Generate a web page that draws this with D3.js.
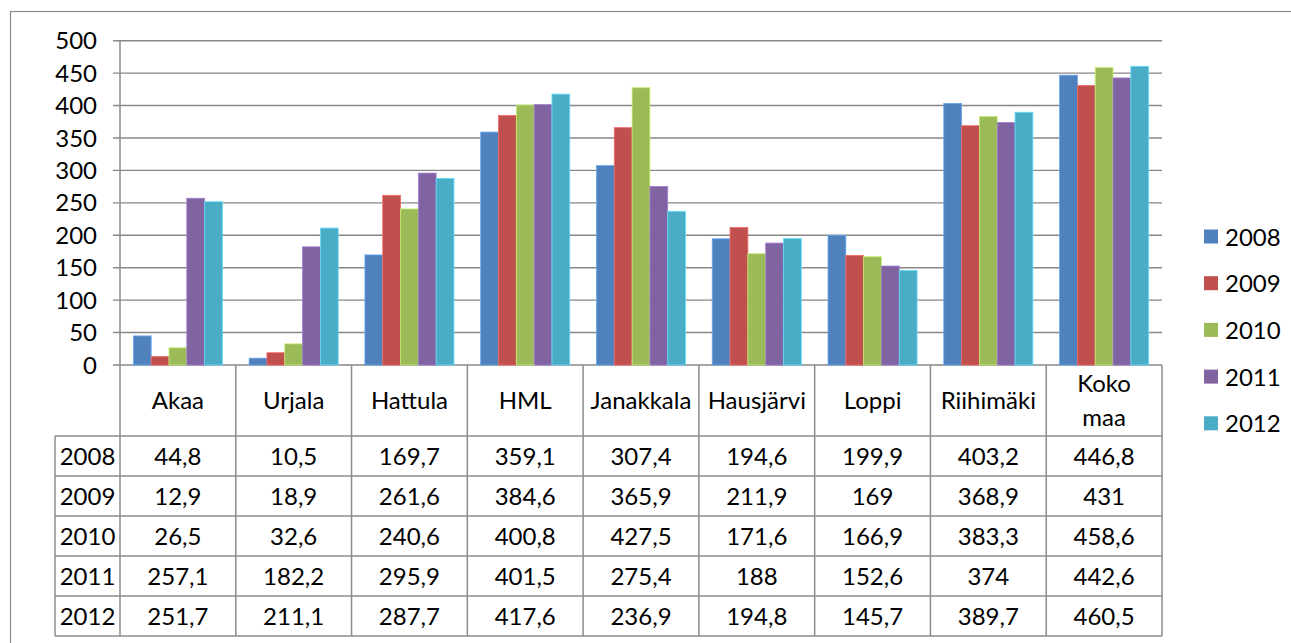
<!DOCTYPE html>
<html>
<head>
    <meta charset="utf-8">
    <style>
        body { margin: 0; background: #fff; }
        text { font-family: Lato, "Open Sans", sans-serif; font-size: 24px; fill: #000; }
        .grid line { stroke: #878787; stroke-width: 1.4; }
        .tbl line { stroke: #8c8c8c; stroke-width: 1.5; }
    </style>
    <script src="https://d3js.org/d3.v7.min.js"></script>
</head>
<body>
    <svg width="1291" height="643"></svg>
    <script>

        // chart data
        var categories = ["Akaa", "Urjala", "Hattula", "HML", "Janakkala", "Hausjärvi", "Loppi", "Riihimäki", "Koko maa"];
        var years = ["2008", "2009", "2010", "2011", "2012"];
        var v2008 = [44.8, 10.5, 169.7, 359.1, 307.4, 194.6, 199.9, 403.2, 446.8];
        var v2009 = [12.9, 18.9, 261.6, 384.6, 365.9, 211.9, 169, 368.9, 431];
        var v2010 = [26.5, 32.6, 240.6, 400.8, 427.5, 171.6, 166.9, 383.3, 458.6];
        var v2011 = [257.1, 182.2, 295.9, 401.5, 275.4, 188, 152.6, 374, 442.6];
        var v2012 = [251.7, 211.1, 287.7, 417.6, 236.9, 194.8, 145.7, 389.7, 460.5];
        var yTicks = [0, 50, 100, 150, 200, 250, 300, 350, 400, 450, 500];

        var series = [v2008, v2009, v2010, v2011, v2012];
        var colors = ["#4F81BD", "#C0504D", "#9BBB59", "#8064A2", "#4BACC6"];

        var svg = d3.select("svg");

        // outer chart border (cut off at right/bottom like the source)
        svg.append("rect")
           .attr("x", 10.5).attr("y", 11.5)
           .attr("width", 1300).attr("height", 700)
           .attr("fill", "none")
           .attr("stroke", "#8a8a8a")
           .attr("stroke-width", 1.2);

        var plotL = 120, plotR = 1162, plotT = 40.7, plotB = 365;

        var x = d3.scaleBand().domain(categories).range([plotL, plotR]);
        var y = d3.scaleLinear().domain([0, 500]).range([plotB, plotT]);
        // gap width 150% like Excel
        var bw = x.bandwidth() / (years.length + 1.5);
        var xs = d3.scaleBand().domain(years)
                   .range([x.bandwidth() / 2 - bw * 2.5, x.bandwidth() / 2 + bw * 2.5]);

        // gridlines + tick marks
        var grid = svg.append("g").attr("class", "grid");
        grid.selectAll("line")
            .data(yTicks)
            .enter().append("line")
            .attr("x1", plotL - 7).attr("x2", plotR)
            .attr("y1", function(d) { return y(d); })
            .attr("y2", function(d) { return y(d); });

        svg.append("g")
           .selectAll("text")
           .data(yTicks)
           .enter().append("text")
           .attr("x", 97).attr("y", function(d) { return y(d); })
           .attr("dy", "0.36em")
           .attr("text-anchor", "end")
           .text(function(d) { return d; });

        // bars
        var groups = svg.append("g").selectAll("g")
            .data(series)
            .enter().append("g")
            .attr("fill", function(d, i) { return colors[i]; })
            .attr("stroke", function(d, i) { return d3.color(colors[i]).brighter(0.7); });

        groups.selectAll("rect")
            .data(function(d, i) { return d.map(function(v, j) { return {v: v, c: categories[j], yr: years[i]}; }); })
            .enter().append("rect")
            .attr("x", function(d) { return x(d.c) + xs(d.yr); })
            .attr("width", xs.bandwidth())
            .attr("y", function(d) { return y(d.v); })
            .attr("height", function(d) { return plotB - y(d.v); })
            .attr("stroke-width", 0.8);

        // data table
        var rowH = 40, headTop = plotB, headBot = 436, labelLeft = 55;
        var tbl = svg.append("g").attr("class", "tbl");

        // vertical axis line
        tbl.append("line").attr("x1", plotL).attr("x2", plotL).attr("y1", plotT).attr("y2", headBot + rowH * years.length);
        // column separators
        categories.forEach(function(c) {
            tbl.append("line")
               .attr("x1", x(c) + x.bandwidth()).attr("x2", x(c) + x.bandwidth())
               .attr("y1", headTop).attr("y2", headBot + rowH * years.length);
        });
        // horizontal lines
        d3.range(years.length + 1).forEach(function(i) {
            tbl.append("line")
               .attr("x1", labelLeft).attr("x2", plotR)
               .attr("y1", headBot + i * rowH).attr("y2", headBot + i * rowH);
        });
        tbl.append("line").attr("x1", labelLeft).attr("x2", labelLeft)
           .attr("y1", headBot).attr("y2", headBot + rowH * years.length);

        // category header labels
        svg.append("g").selectAll("text")
           .data(categories)
           .enter().append("text")
           .attr("x", function(d) { return x(d) + x.bandwidth() / 2; })
           .attr("y", (headTop + headBot) / 2)
           .attr("text-anchor", "middle")
           .each(function(d) {
               var words = d.split(" ");
               var t = d3.select(this);
               words.forEach(function(w, k) {
                   t.append("tspan")
                    .attr("x", x(d) + x.bandwidth() / 2)
                    .attr("dy", k === 0 ? (0.36 - (words.length - 1) * 0.7) + "em" : "1.4em")
                    .text(w);
               });
           });

        // table rows
        years.forEach(function(yr, i) {
            var cy = headBot + i * rowH + rowH / 2;
            svg.append("text")
               .attr("x", (labelLeft + plotL) / 2).attr("y", cy)
               .attr("dy", "0.36em").attr("text-anchor", "middle")
               .text(yr);
            svg.append("g").selectAll("text")
               .data(series[i])
               .enter().append("text")
               .attr("x", function(d, j) { return x(categories[j]) + x.bandwidth() / 2; })
               .attr("y", cy)
               .attr("dy", "0.36em")
               .attr("text-anchor", "middle")
               .text(function(d) { return String(d).replace(".", ","); });
        });

        // legend
        var legend = svg.append("g").selectAll("g")
            .data(years)
            .enter().append("g")
            .attr("transform", function(d, i) { return "translate(1204," + (237 + i * 46.7) + ")"; });

        legend.append("rect")
              .attr("x", 0).attr("y", -7.5)
              .attr("width", 14).attr("height", 14)
              .attr("fill", function(d, i) { return colors[i]; });

        legend.append("text")
              .attr("x", 21).attr("dy", "0.36em")
              .text(function(d) { return d; });
    </script>
</body>
</html>
